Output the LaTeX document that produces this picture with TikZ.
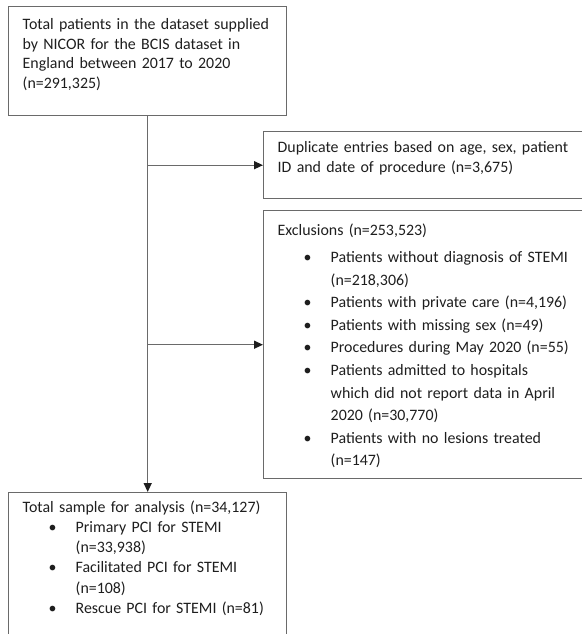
\documentclass[tikz,border=0pt]{standalone}
\usepackage{fontspec}
\setmainfont{Carlito}
\usetikzlibrary{arrows.meta}
\definecolor{boxgray}{HTML}{6A6A6A}
\definecolor{inkgray}{HTML}{1E1E1E}
\newcommand{\listitem}{\par\hangindent=53pt\hangafter=0\noindent\llap{\makebox[46pt][c]{\textbullet}}}
\tikzset{
every picture/.style={
line width=1.4pt
},
box/.style={draw=boxgray, anchor=north west, inner sep=0pt},
txt/.style={anchor=north west, inner sep=0pt, text=inkgray},
feed/.style={draw=boxgray, -{Triangle[length=9pt,width=8pt,color=inkgray]}}
}

\begin{document}
\begin{tikzpicture}[x=1pt,y=-1pt]
\useasboundingbox (0,0) rectangle (581,634);

\node[box, minimum width=278pt, minimum height=109pt] (src) at (8,6) {};
\node[box, minimum width=340pt, minimum height=67pt] (dup) at (263,131) {};
\node[box, minimum width=340pt, minimum height=268pt] (excl) at (263,210) {};
\node[box, minimum width=278pt, minimum height=170pt] (total) at (8,492) {};

\node[txt, text width=275pt, font=\fontsize{15.9}{19.5}\selectfont] (srctext) at (22,18)
  {\raggedright\noindent Total patients in the dataset supplied\newline by NICOR for the BCIS dataset in\newline England between 2017 to 2020\newline (n=291,325)\par};
\node[txt, text width=320pt, font=\fontsize{15.9}{20}\selectfont] (duptext) at (277,141)
  {\raggedright\noindent Duplicate entries based on age, sex, patient\newline ID and date of procedure (n=3,675)\par};
\node[txt, text width=320pt, font=\fontsize{15.9}{22.6}\selectfont] (excltext) at (277,223)
  {\raggedright\noindent Exclusions (n=253,523)\par\vspace{4.5pt}
   \listitem Patients without diagnosis of STEMI\newline (n=218,306)
   \listitem Patients with private care (n=4,196)
   \listitem Patients with missing sex (n=49)
   \listitem Procedures during May 2020 (n=55)
   \listitem Patients admitted to hospitals\newline which did not report data in April\newline 2020 (n=30,770)
   \listitem Patients with no lesions treated\newline (n=147)\par};
\node[txt, text width=275pt, font=\fontsize{15.9}{20.2}\selectfont] (totaltext) at (22,500)
  {\raggedright\noindent Total sample for analysis (n=34,127)
   \listitem Primary PCI for STEMI\newline (n=33,938)
   \listitem Facilitated PCI for STEMI\newline (n=108)
   \listitem Rescue PCI for STEMI (n=81)\par};

\draw[feed] (src.south) -- (total.north);
\draw[feed] (src.south |- dup.west) -- (dup.west);
\draw[feed] (src.south |- excl.west) -- (excl.west);

\end{tikzpicture}
\end{document}
